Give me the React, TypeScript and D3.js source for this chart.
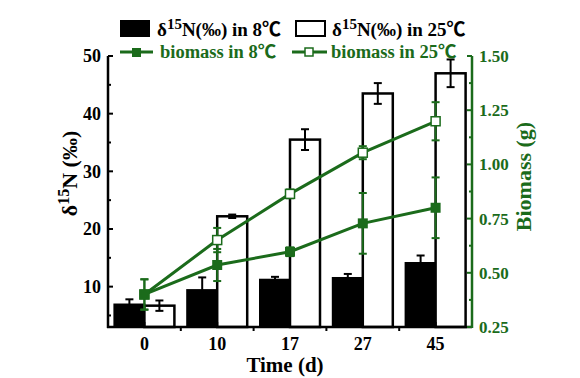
import React from "react";
import * as d3 from "d3";

const categories = ["0", "10", "17", "27", "45"];
const d15N8 = [6.9, 9.4, 11.2, 11.5, 14.1];
const d15N8Err = [0.9, 2.2, 0.5, 0.7, 1.3];
const d15N25 = [6.7, 22.2, 35.5, 43.5, 47.0];
const d15N25Err = [0.9, 0.3, 1.8, 1.8, 2.4];
const bio8 = [0.4, 0.536, 0.597, 0.728, 0.8];
const bio8Err = [0.07, 0.074, 0.02, 0.14, 0.14];
const bio25 = [0.4, 0.651, 0.864, 1.054, 1.199];
const bio25Err = [0.07, 0.056, 0.02, 0.03, 0.088];
const leftTicks = [10, 20, 30, 40, 50];
const leftMinor = [5, 15, 25, 35, 45];
const rightTicks = [0.25, 0.5, 0.75, 1.0, 1.25, 1.5];
const rightMinor = [0.375, 0.625, 0.875, 1.125, 1.375];

const W = 580, H = 378;
const GREEN = "#1b6b1b";
const FONT = "'Liberation Serif', 'Times New Roman', 'Noto Sans CJK SC', serif";

export default function App() {
  const left = 108, right = 472, top = 56, bottom = 327;
  const x = d3.scaleBand<string>().domain(categories).range([left, right]).padding(0);
  const yL = d3.scaleLinear().domain([3, 50]).range([bottom, top]);
  const yR = d3.scaleLinear().domain([0.25, 1.5]).range([bottom, top]);
  const cx = (c: string) => (x(c) as number) + x.bandwidth() / 2;
  const bw = 30;
  const line = d3.line<number>().x((_, i) => cx(categories[i])).y((d) => yR(d));
  const boundaries = categories.slice(1).map((c) => x(c) as number);

  const errBar = (xc: number, y1: number, y2: number, color: string, key: string, cap = 8) => (
    <g key={key} stroke={color} strokeWidth={2}>
      <line x1={xc} x2={xc} y1={y1} y2={y2} />
      <line x1={xc - cap / 2} x2={xc + cap / 2} y1={y1} y2={y1} />
      <line x1={xc - cap / 2} x2={xc + cap / 2} y1={y2} y2={y2} />
    </g>
  );

  return (
    <svg width={W} height={H} style={{ position: "absolute", left: 0, top: 0, background: "#fff" }} fontFamily={FONT} fontWeight="bold">
      {/* bars */}
      {categories.map((c, i) => (
        <g key={"b" + c}>
          <rect x={cx(c) - bw} y={yL(d15N8[i])} width={bw} height={bottom - yL(d15N8[i])} fill="#000" stroke="#000" strokeWidth={2} />
          <rect x={cx(c)} y={yL(d15N25[i])} width={bw} height={bottom - yL(d15N25[i])} fill="#fff" stroke="#000" strokeWidth={2.5} />
        </g>
      ))}
      {categories.map((c, i) => errBar(cx(c) - bw / 2, yL(d15N8[i] + d15N8Err[i]), yL(d15N8[i] - d15N8Err[i]), "#000", "e8" + c))}
      {categories.map((c, i) => errBar(cx(c) + bw / 2, yL(d15N25[i] + d15N25Err[i]), yL(d15N25[i] - d15N25Err[i]), "#000", "e25" + c))}

      {/* biomass lines */}
      <path d={line(bio25) || ""} fill="none" stroke={GREEN} strokeWidth={3} />
      <path d={line(bio8) || ""} fill="none" stroke={GREEN} strokeWidth={3} />
      {categories.map((c, i) => errBar(cx(c), yR(bio25[i] + bio25Err[i]), yR(bio25[i] - bio25Err[i]), GREEN, "g25" + c))}
      {categories.map((c, i) => errBar(cx(c), yR(bio8[i] + bio8Err[i]), yR(bio8[i] - bio8Err[i]), GREEN, "g8" + c))}
      {categories.map((c, i) => (
        <rect key={"m25" + c} x={cx(c) - 4.5} y={yR(bio25[i]) - 4.5} width={9} height={9} fill="#fff" stroke={GREEN} strokeWidth={1.5} />
      ))}
      {categories.map((c, i) => (
        <rect key={"m8" + c} x={cx(c) - 5} y={yR(bio8[i]) - 5} width={10} height={10} fill={GREEN} />
      ))}

      {/* left axis */}
      <line x1={left} x2={left} y1={top} y2={bottom + 1} stroke="#000" strokeWidth={2.5} />
      {leftTicks.map((t) => (
        <g key={"lt" + t}>
          <line x1={left} x2={left + 5} y1={yL(t)} y2={yL(t)} stroke="#000" strokeWidth={2} />
          <text x={left - 7} y={yL(t)} dy="0.35em" textAnchor="end" fontSize={18}>{t}</text>
        </g>
      ))}
      {leftMinor.map((t) => (
        <line key={"lm" + t} x1={left} x2={left + 3} y1={yL(t)} y2={yL(t)} stroke="#000" strokeWidth={2} />
      ))}
      {/* bottom axis */}
      <line x1={left - 1} x2={right} y1={bottom} y2={bottom} stroke="#000" strokeWidth={2.5} />
      {boundaries.map((b, i) => (
        <line key={"xb" + i} x1={b} x2={b} y1={bottom} y2={bottom + 4} stroke="#000" strokeWidth={2} />
      ))}
      {categories.map((c) => (
        <g key={"xt" + c}>
          <line x1={cx(c)} x2={cx(c)} y1={bottom} y2={bottom - 5} stroke="#000" strokeWidth={2} />
          <text x={cx(c)} y={bottom + 23} textAnchor="middle" fontSize={18}>{c}</text>
        </g>
      ))}
      <text x={(left + right) / 2 - 5} y={372} textAnchor="middle" fontSize={21}>Time (d)</text>

      {/* right axis */}
      <line x1={right} x2={right} y1={top} y2={bottom + 1} stroke={GREEN} strokeWidth={2.5} />
      {rightTicks.map((t) => (
        <g key={"rt" + t}>
          <line x1={right} x2={right - 5} y1={yR(t)} y2={yR(t)} stroke={GREEN} strokeWidth={2} />
          <text x={right + 7} y={yR(t)} dy="0.35em" textAnchor="start" fontSize={17} fill={GREEN}>{t.toFixed(2)}</text>
        </g>
      ))}
      {rightMinor.map((t) => (
        <line key={"rm" + t} x1={right} x2={right - 3} y1={yR(t)} y2={yR(t)} stroke={GREEN} strokeWidth={2} />
      ))}

      {/* axis titles */}
      <text transform={`translate(77, ${(top + bottom) / 2 - 18}) rotate(-90)`} textAnchor="middle" fontSize={22}>
        δ<tspan dy={-8} fontSize={16}>15</tspan><tspan dy={8}>N (‰)</tspan>
      </text>
      <text transform={`translate(531, ${(top + bottom) / 2 - 15}) rotate(-90)`} textAnchor="middle" fontSize={22} fill={GREEN}>Biomass (g)</text>

      {/* legend */}
      <rect x={120} y={20} width={30} height={17} fill="#000" />
      <text x={157} y={36} fontSize={19}>
        δ<tspan dy={-7} fontSize={15}>15</tspan><tspan dy={7}>N(‰) in 8℃</tspan>
      </text>
      <rect x={296} y={21} width={29} height={15} fill="#fff" stroke="#000" strokeWidth={2} />
      <text x={332} y={36} fontSize={19}>
        δ<tspan dy={-7} fontSize={15}>15</tspan><tspan dy={7}>N(‰) in 25℃</tspan>
      </text>
      <line x1={120} x2={153} y1={52} y2={52} stroke={GREEN} strokeWidth={3} />
      <rect x={132} y={48} width={9} height={9} fill={GREEN} />
      <text x={160} y={58} fontSize={18.5} fill={GREEN}>biomass in 8℃</text>
      <line x1={292} x2={327} y1={52} y2={52} stroke={GREEN} strokeWidth={3} />
      <rect x={305} y={48} width={8} height={8} fill="#fff" stroke={GREEN} strokeWidth={1.5} />
      <text x={331} y={58} fontSize={18.5} fill={GREEN}>biomass in 25℃</text>
    </svg>
  );
}
